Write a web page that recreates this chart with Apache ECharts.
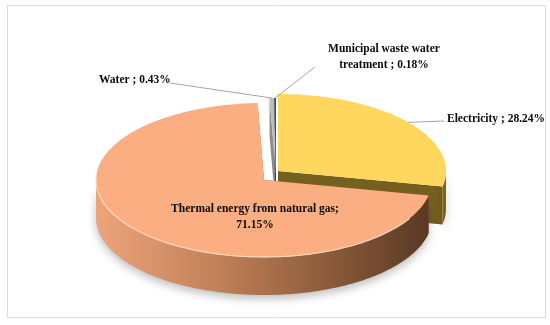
<!DOCTYPE html>
<html><head><meta charset="utf-8">
<script src="https://cdn.jsdelivr.net/npm/echarts@6/dist/echarts.min.js"></script>
<style>html,body{margin:0;padding:0;background:#fff}#c{width:550px;height:325px}</style>
</head><body><div id="c"></div>
<script>
// ---- data ----
const categories = ['Electricity', 'Thermal energy from natural gas', 'Water', 'Municipal waste water treatment'];
const shares = [28.24, 71.15, 0.43, 0.18];
const labelTexts = ['Electricity ; 28.24%', 'Thermal energy from natural gas;\n71.15%', 'Water ; 0.43%', 'Municipal waste water\ntreatment ; 0.18%'];

// ---- geometry / style config ----
const RX = 168, RY = 77, DEPTH = 38;
const centers = [[278, 171], [264, 180], [276, 175], [276, 175]];
const topColors = ['#FFD75E', '#FAAE82', '#BDBDBD', '#3E4C5E'];
const cutColors = ['#75601F', '#8A5A3A', '#8C8C8C', '#2A3440'];
const zRank = [2, 3, 1, 1];
const FONT = 'bold 11.5px "Liberation Serif", "DejaVu Serif", serif';
const labelCfg = [
  { x: 447, y: 119, align: 'left', lineTo: [444, 121] },
  { x: 255, y: 217, align: 'center', lineTo: null },
  { x: 99, y: 80, align: 'left', lineTo: [170, 83] },
  { x: 384, y: 57, align: 'center', lineTo: [315, 67] }
];

const total = shares.reduce((a, b) => a + b, 0);
const starts = [], ends = [];
let acc = 0;
shares.forEach(v => { starts.push(acc / total * 360); acc += v; ends.push(acc / total * 360); });

function pt(c, th, dy) {
  const r = th * Math.PI / 180;
  return [c[0] + RX * Math.sin(r), c[1] - RY * Math.cos(r) + (dy || 0)];
}
function arc(c, a0, a1, dy) {
  const n = Math.max(2, Math.ceil(Math.abs(a1 - a0) / 1) + 1);
  const p = [];
  for (let i = 0; i < n; i++) p.push(pt(c, a0 + (a1 - a0) * i / (n - 1), dy));
  return p;
}

function renderItem(params, api) {
  const i = params.dataIndex;
  const c = centers[i];
  const a0 = starts[i], a1 = ends[i];
  const z = zRank[i] * 10;
  const children = [];
  [a0, a1].forEach(a => {
    children.push({
      type: 'polygon', z2: z,
      shape: { points: [c, pt(c, a), pt(c, a, DEPTH), [c[0], c[1] + DEPTH]] },
      style: { fill: cutColors[i] }
    });
  });
  const f0 = Math.max(a0, 90), f1 = Math.min(a1, 270);
  if (f1 > f0) {
    let fill;
    if (i === 1) {
      fill = new echarts.graphic.LinearGradient(c[0] - RX, 0, c[0] + RX, 0, [
        { offset: 0, color: '#EDA47A' },
        { offset: 0.35, color: '#C2825A' },
        { offset: 0.7, color: '#8A5A3A' },
        { offset: 1, color: '#573823' }
      ], true);
    } else {
      fill = '#7D6322';
    }
    children.push({
      type: 'polygon', z2: z + 1,
      shape: { points: arc(c, f0, f1, 0).concat(arc(c, f1, f0, DEPTH)) },
      style: { fill: fill, shadowBlur: 8, shadowColor: 'rgba(0,0,0,0.25)', shadowOffsetY: 4 }
    });
  }
  children.push({
    type: 'polygon', z2: z + 2,
    shape: { points: [c].concat(arc(c, a0, a1, 0)) },
    style: { fill: topColors[i] }
  });
  if (i === 1) {
    children.push({
      type: 'polyline', z2: z + 3,
      shape: { points: arc(c, Math.max(a0, 120), 275, 0) },
      style: { stroke: 'rgba(255,222,198,0.85)', lineWidth: 1.3, fill: null }
    });
  }
  const L = labelCfg[i];
  if (L.lineTo) {
    const m = (a0 + a1) / 2;
    children.push({
      type: 'polyline', z2: 100,
      shape: { points: [pt(centers[i], m), L.lineTo] },
      style: { stroke: '#A6A6A6', lineWidth: 1, fill: null }
    });
  }
  children.push({
    type: 'text', z2: 101,
    style: {
      text: labelTexts[i], x: L.x, y: L.y, fill: '#0a0a0a',
      font: FONT, align: L.align, verticalAlign: 'middle', lineHeight: 16
    }
  });
  return { type: 'group', children: children };
}

const chart = echarts.init(document.getElementById('c'), null, { renderer: 'canvas' });
chart.setOption({
  backgroundColor: '#fff',
  animation: false,
  graphic: [{
    type: 'rect', z: -1,
    shape: { x: 7.5, y: 5.5, width: 538, height: 312 },
    style: { fill: 'none', stroke: '#DCDCDC', lineWidth: 1 }
  }],
  series: [{
    type: 'custom',
    coordinateSystem: 'none',
    silent: true,
    renderItem: renderItem,
    data: shares.map((v, i) => ({ name: categories[i], value: v }))
  }]
});
</script></body></html>
